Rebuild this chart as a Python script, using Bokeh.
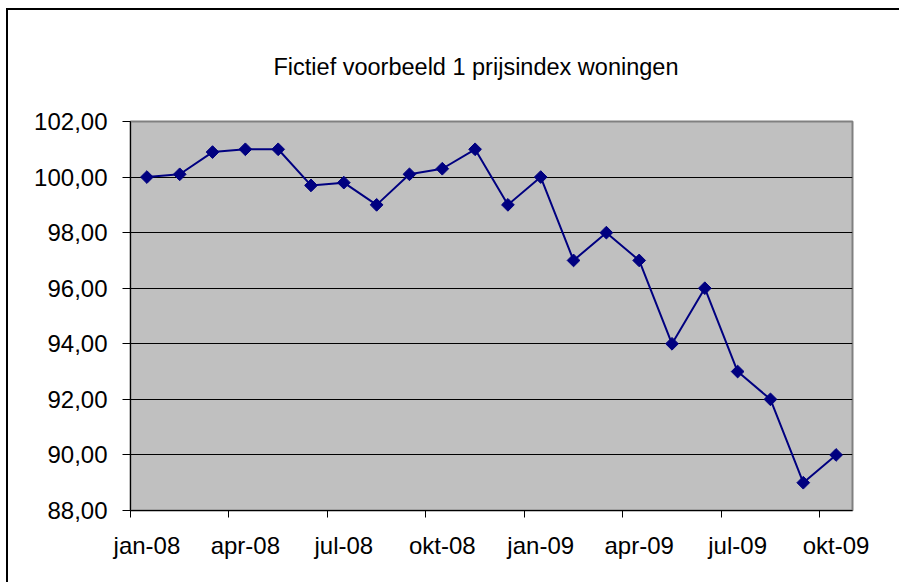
import math
from bokeh.plotting import figure
from bokeh.models import FixedTicker, Range1d
from bokeh.embed import file_html
from bokeh.resources import INLINE

# ---- data ----
months = ["jan-08", "feb-08", "mrt-08", "apr-08", "mei-08", "jun-08",
          "jul-08", "aug-08", "sep-08", "okt-08", "nov-08", "dec-08",
          "jan-09", "feb-09", "mrt-09", "apr-09", "mei-09", "jun-09",
          "jul-09", "aug-09", "sep-09", "okt-09"]
index_values = [100.0, 100.1, 100.9, 101.0, 101.0, 99.7,
                99.8, 99.0, 100.1, 100.3, 101.0, 99.0,
                100.0, 97.0, 98.0, 97.0, 94.0, 96.0,
                93.0, 92.0, 89.0, 90.0]
tick_labels = ["jan-08", "apr-08", "jul-08", "okt-08",
               "jan-09", "apr-09", "jul-09", "okt-09"]
y_ticks = [88, 90, 92, 94, 96, 98, 100, 102]
y_tick_labels = ["88,00", "90,00", "92,00", "94,00", "96,00", "98,00", "100,00", "102,00"]
title_text = "Fictief voorbeeld 1 prijsindex woningen"

FONT = "Liberation Sans"

# month slots: each month occupies one unit, point at its middle
n = len(months)
x_pos = [i + 0.5 for i in range(n)]
tick_pos = [months.index(t) for t in tick_labels]
label_pos = [months.index(t) + 0.5 for t in tick_labels]

p = figure(width=893, height=574, output_backend="svg", toolbar_location=None,
           x_range=Range1d(0, n), y_range=Range1d(y_ticks[0], y_ticks[-1]),
           min_border_left=122, min_border_right=49, min_border_top=111,
           min_border_bottom=74)
# chart-area border (top and left visible, as in the cropped reference)
p.styles = {"margin-left": "8px", "margin-top": "10px",
            "box-shadow": "-2px -2px 0 0 black"}

p.background_fill_color = "#C0C0C0"
p.border_fill_color = "white"
p.outline_line_color = "#808080"
p.outline_line_width = 2

# y axis
yax = p.yaxis[0]
yax.ticker = FixedTicker(ticks=y_ticks)
yax.major_label_overrides = {t: l for t, l in zip(y_ticks, y_tick_labels)}
yax.major_label_text_font = FONT
yax.major_label_text_font_size = "24px"
yax.major_label_text_color = "black"
yax.axis_line_color = "black"
yax.axis_line_width = 1
yax.major_tick_line_color = "black"
yax.major_tick_out = 8
yax.major_tick_in = 0
yax.minor_tick_line_color = None
yax.major_label_standoff = 15

# x axis (below): labels centred on the month, tick marks (minor) at month starts
xax = p.below[0]
xax.ticker = FixedTicker(ticks=label_pos, minor_ticks=tick_pos)
xax.major_label_overrides = {t: l for t, l in zip(label_pos, tick_labels)}
xax.major_label_text_font = FONT
xax.major_label_text_font_size = "24px"
xax.major_label_text_color = "black"
xax.axis_line_color = "black"
xax.axis_line_width = 1
xax.major_tick_line_color = None
xax.major_tick_out = 0
xax.major_tick_in = 0
xax.minor_tick_line_color = "black"
xax.minor_tick_out = 7
xax.minor_tick_in = 0
xax.major_label_standoff = 14

# title (large standoff lifts it away from the plot area)
p.title.text = title_text
p.title.align = "left"
p.title.offset = 143
p.title.vertical_align = "top"
p.title.standoff = 80
p.title.text_font = FONT
p.title.text_font_size = "23.5px"
p.title.text_font_style = "normal"
p.title.text_color = "black"

p.xgrid.grid_line_color = None
p.ygrid.ticker = FixedTicker(ticks=y_ticks)
p.ygrid.grid_line_color = "black"
p.ygrid.grid_line_width = 1

p.line(x_pos, index_values, line_color="#000080", line_width=2)
p.scatter(x_pos, index_values, marker="square", size=9, angle=math.pi / 4,
          fill_color="#000080", line_color="#000080")

open("out.html", "w").write(file_html(p, INLINE))
